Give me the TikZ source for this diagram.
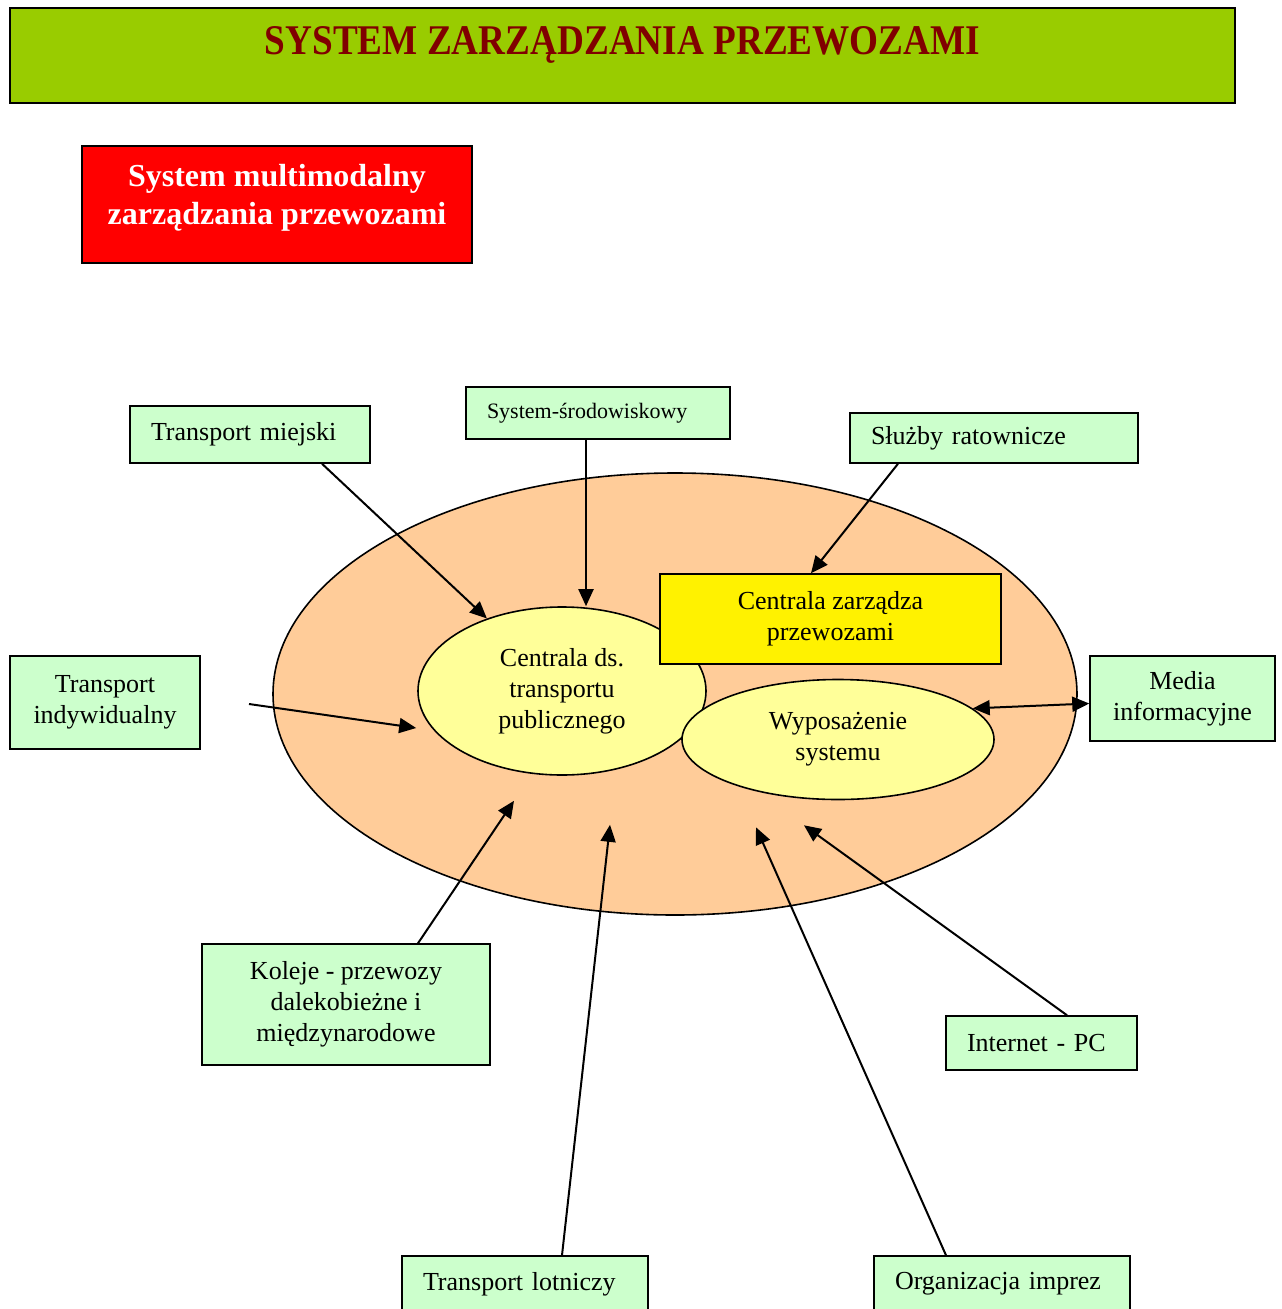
\documentclass[tikz,border=0pt]{standalone}
\usepackage{fontspec}
\setmainfont{Liberation Serif}
\usetikzlibrary{shapes.geometric,arrows.meta}
\definecolor{titlegreen}{HTML}{99CC00}
\definecolor{titlered}{HTML}{800000}
\definecolor{boxgreen}{HTML}{CCFFCC}
\definecolor{bigorange}{HTML}{FFCC99}
\definecolor{paleyellow}{HTML}{FFFF99}
\tikzset{
  gbox/.style={draw, line width=1.5pt, fill=boxgreen, inner sep=0pt, inner xsep=21pt, align=left, font=\fontsize{26}{31}\selectfont},
  gboxc/.style={draw, line width=1.5pt, fill=boxgreen, inner sep=0pt, align=center, font=\fontsize{26}{31}\selectfont},
  oval/.style={draw, line width=1.6pt, ellipse, inner sep=0pt, fill=paleyellow, align=center, font=\fontsize{26}{31}\selectfont},
  arr/.style={draw, line width=2pt, -{Triangle[length=17pt,width=15pt]}},
  darr/.style={draw, line width=2pt, {Triangle[length=17pt,width=15pt]}-{Triangle[length=17pt,width=15pt]}}
}
\begin{document}
\begin{tikzpicture}[x=1pt,y=-1pt]
\path[use as bounding box, clip] (0,0) rectangle (1282,1309);
\fill[white] (0,0) rectangle (1282,1309);
% title
\node[draw, line width=2pt, fill=titlegreen, minimum width=1225pt, minimum height=95pt, inner sep=0pt, text=titlered] (title) at (622.5,55.5)
  {\raisebox{29.5pt}{\resizebox{715pt}{28pt}{\bfseries SYSTEM ZARZĄDZANIA PRZEWOZAMI}}};
% red box
\node[draw, line width=1.5pt, fill=red, minimum width=390pt, minimum height=117pt, inner sep=0pt, text=white] (multi) at (277,204.5)
  {\parbox[c][117pt][t]{380pt}{\vspace*{18.5pt}\centering\bfseries\fontsize{32}{38}\selectfont System multimodalny\\zarządzania przewozami}};
% big ellipse
\node[draw, line width=1.6pt, ellipse, fill=bigorange, minimum width=804pt, minimum height=442pt, inner sep=0pt] (big) at (675,694) {};
% inner ellipses and box
\node[oval, minimum width=288pt, minimum height=168pt] (cdt) at (562,691) {Centrala ds.\\transportu\\publicznego};
\node[draw, line width=1.5pt, fill=yellow, minimum width=341pt, minimum height=90pt, inner sep=0pt, align=center, font=\fontsize{26}{31}\selectfont] (cz) at (830.5,619) {Centrala zarządza\\przewozami};
\node[oval, minimum width=312pt, minimum height=120pt] (wyp) at (838,739.5) {Wyposażenie\\systemu};
% green boxes
\node[gbox, text width=198pt, minimum height=57pt] (tm) at (250,434.5) {Transport miejski};
\node[gbox, text width=222pt, minimum height=52pt, font=\fontsize{22}{26}\selectfont] (ss) at (598,413) {System-środowiskowy};
\node[gbox, text width=246pt, minimum height=50pt] (sr) at (994,438) {Służby ratownicze};
\node[gboxc, minimum width=190pt, minimum height=93pt] (ti) at (105,702.5) {Transport\\indywidualny};
\node[gboxc, minimum width=185pt, minimum height=85pt] (mi) at (1182.5,698.5) {Media\\informacyjne};
\node[gboxc, minimum width=288pt, minimum height=121pt] (kol) at (346,1004.5) {Koleje - przewozy\\dalekobieżne i\\międzynarodowe};
\node[gbox, text width=149pt, minimum height=54pt] (ipc) at (1041.5,1043) {Internet - PC};
\node[gbox, text width=204pt, minimum height=56pt] (tl) at (525,1284) {Transport lotniczy};
\node[gbox, text width=214pt, minimum height=56pt] (oi) at (1002,1284) {Organizacja imprez};
\coordinate (tistart) at (249,704);
% connectors
\draw[arr] ([xshift=72pt]tm.south) -- (cdt.136);
\draw[arr] ([xshift=-12pt]ss.south) -- ([xshift=-12pt]ss.south |- cdt.north);
\draw[arr] ([xshift=-96pt]sr.south) -- ([xshift=-19.5pt]cz.north);
\draw[arr] (tistart) -- ([shift={(-1pt,-37pt)}]cdt.west);
\draw[darr] (wyp.13) -- ([yshift=-5pt]mi.west);
\draw[arr] ([xshift=72pt]kol.north) -- ([shift={(-48pt,-25pt)}]cdt.south);
\draw[arr] ([xshift=37pt]tl.north) -- ([shift={(48pt,-49pt)}]cdt.south);
\draw[arr] ([xshift=-56pt]oi.north) -- ([shift={(-82pt,-27pt)}]wyp.south);
\draw[arr] ([xshift=25.5pt]ipc.north) -- ([shift={(-34pt,-25pt)}]wyp.south);
\end{tikzpicture}
\end{document}
